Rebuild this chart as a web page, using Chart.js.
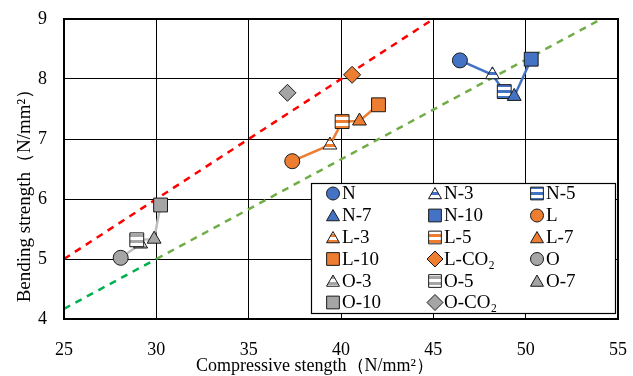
<!DOCTYPE html>
<html><head><meta charset="utf-8">
<script src="https://cdn.jsdelivr.net/npm/chart.js@4.4.1/dist/chart.umd.min.js"></script>
<style>html,body{margin:0;padding:0;background:#fff;}#wrap{width:633px;height:376px;position:relative}</style>
</head><body><div id="wrap"><canvas id="c" width="633" height="376"></canvas></div>
<script>
// ---- data ----
const seriesNames = ['N','N-3','N-5','N-7','N-10','L','L-3','L-5','L-7','L-10','L-CO₂','O','O-3','O-5','O-7','O-10','O-CO₂'];
const compressive = [46.44, 48.2, 48.84, 49.38, 50.3, 37.36, 39.4, 40.06, 41.0, 42.03, 40.6, 28.07, 29.15, 28.94, 29.88, 30.23, 37.1];
const bending     = [8.31, 8.07, 7.79, 7.71, 8.33, 6.63, 6.9, 7.29, 7.3, 7.57, 8.07, 5.02, 5.25, 5.32, 5.33, 5.9, 7.77];
const groups      = ['N','N','N','N','N','L','L','L','L','L','L','O','O','O','O','O','O'];
const shapes      = ['circle','triangle','rect','triangle','rect','circle','triangle','rect','triangle','rect','rectRot','circle','triangle','rect','triangle','rect','rectRot'];
const fills       = ['solid','stripe','stripe','solid','solid','solid','stripe','stripe','solid','solid','solid','solid','stripe','stripe','solid','solid','solid'];
const connected   = [true,true,true,true,true,true,true,true,true,true,false,true,true,true,true,true,false];
const xTicks = [25, 30, 35, 40, 45, 50, 55];
const yTicks = [4, 5, 6, 7, 8, 9];
const redLineX = [25, 45];
const redLineY = [5, 9];
const greenDarkX = [25, 30];
const greenDarkY = [4.17, 5.0];
const greenLightX = [30, 55];
const greenLightY = [5.0, 9.15];
const xTitle = 'Compressive stength（N/mm²）';
const yTitle = 'Bending strength（N/mm²）';

// ---- styles ----
const groupColor = {N:'#4472C4', L:'#ED7D31', O:'#A5A5A5'};
const lineColor = {N:'#4472C4', L:'#ED7D31', O:'#BFBFBF'};
const plotRadius = {circle:7.5, triangle:8, rect:9.8, rectRot:8.5};
const legendRadius = {circle:6.5, triangle:7.5, rect:9, rectRot:8};
const FONT = '"Liberation Serif", "Times New Roman", serif';

function stripe(color){
  const c = document.createElement('canvas'); c.width = 6; c.height = 6;
  const g = c.getContext('2d');
  g.fillStyle = '#ffffff'; g.fillRect(0,0,6,6);
  g.fillStyle = color; g.fillRect(0,0,6,3);
  return g.createPattern(c,'repeat');
}
function fillFor(i){
  const col = groupColor[groups[i]];
  return fills[i] === 'stripe' ? stripe(col) : col;
}

const datasets = [];
seriesNames.forEach((name,i)=>{
  datasets.push({
    label: name,
    data: [{x: compressive[i], y: bending[i]}],
    pointStyle: shapes[i],
    pointRadius: plotRadius[shapes[i]],
    pointHoverRadius: plotRadius[shapes[i]],
    pointBackgroundColor: fillFor(i),
    pointBorderColor: '#1a1a1a',
    pointBorderWidth: 1,
    showLine: false,
    order: 100 - i,
    _marker: true, _idx: i
  });
});
['N','L','O'].forEach(g=>{
  const pts = [];
  seriesNames.forEach((n,i)=>{ if(groups[i]===g && connected[i]) pts.push({x:compressive[i], y:bending[i]}); });
  datasets.push({label:g+' line', data:pts, showLine:true, borderColor:lineColor[g], borderWidth:2.5, pointRadius:0, order:200});
});
function seg(xs,ys){ return xs.map((x,k)=>({x:x,y:ys[k]})); }
datasets.push({label:'red', data:seg(redLineX,redLineY), showLine:true, borderColor:'#FF0000', borderWidth:2.5, borderDash:[7,6], pointRadius:0, order:300});
datasets.push({label:'greenDark', data:seg(greenDarkX,greenDarkY), showLine:true, borderColor:'#00B050', borderWidth:2.5, borderDash:[7,6], pointRadius:0, order:300});
datasets.push({label:'greenLight', data:seg(greenLightX,greenLightY), showLine:true, borderColor:'#70AD47', borderWidth:2.5, borderDash:[7,6], pointRadius:0, order:300});

const boxLegend = {
  id:'boxLegend',
  afterDatasetsDraw(chart){
    const ctx = chart.ctx;
    const L=311, T=183, R=615, B=313;
    ctx.save();
    ctx.fillStyle = '#fff'; ctx.fillRect(L,T,R-L,B-T);
    ctx.strokeStyle = '#000'; ctx.lineWidth = 1.2; ctx.strokeRect(L+0.5,T+0.5,R-L,B-T);
    const colX = [333, 435, 537];
    const rowY = [193.5, 215.5, 237.5, 259, 281, 302.5];
    ctx.font = '19px ' + FONT; ctx.textBaseline = 'middle'; ctx.textAlign = 'left';
    chart.data.datasets.forEach(ds=>{
      if(!ds._marker) return;
      const i = ds._idx, col = i%3, row = Math.floor(i/3);
      const x = colX[col], y = rowY[row];
      ctx.fillStyle = ds.pointBackgroundColor; ctx.strokeStyle = '#1a1a1a'; ctx.lineWidth = 1;
      const sh = ds.pointStyle;
      const yy = sh==='triangle' ? y+1.5 : y;
      Chart.helpers.drawPoint(ctx, {pointStyle:sh, rotation:0, radius:legendRadius[sh], borderWidth:1}, x, yy);
      ctx.fillStyle = '#000';
      ctx.fillText(ds.label, x + 9, y + 1);
    });
    ctx.restore();
  },
  afterDraw(chart){
    const ctx = chart.ctx, a = chart.chartArea;
    ctx.save();
    ctx.strokeStyle = '#000'; ctx.lineWidth = 2;
    ctx.strokeRect(a.left, a.top, a.right-a.left, a.bottom-a.top);
    ctx.fillStyle = '#000'; ctx.textAlign='center'; ctx.textBaseline='middle';
    ctx.font = '18px ' + FONT;
    ctx.fillText(xTitle, 315, 366);
    ctx.font = '19px ' + FONT;
    ctx.translate(25, 191); ctx.rotate(-Math.PI/2);
    ctx.fillText(yTitle, 0, 0);
    ctx.restore();
  }
};

function zeroPad(s){ s.paddingLeft = 0; s.paddingRight = 0; s.paddingTop = 0; s.paddingBottom = 0; }

new Chart(document.getElementById('c'), {
  type:'scatter',
  data:{datasets},
  options:{
    responsive:false, animation:false, devicePixelRatio:1,
    layout:{padding:{top:19, right:15, left:0, bottom:0}},
    plugins:{legend:{display:false}, tooltip:{enabled:false}},
    scales:{
      x:{type:'linear', min:xTicks[0], max:xTicks[xTicks.length-1],
        afterBuildTicks(s){ s.ticks = xTicks.map(v=>({value:v})); },
        afterFit(s){ s.height = 57; zeroPad(s); },
        ticks:{font:{family:FONT, size:18}, color:'#000', padding:20},
        grid:{color:'#000', lineWidth:1, drawTicks:false},
        border:{color:'#000', width:2}},
      y:{type:'linear', min:yTicks[0], max:yTicks[yTicks.length-1],
        afterBuildTicks(s){ s.ticks = yTicks.map(v=>({value:v})); },
        afterFit(s){ s.width = 64; zeroPad(s); },
        ticks:{font:{family:FONT, size:18}, color:'#000', padding:17},
        grid:{color:'#000', lineWidth:1, drawTicks:false},
        border:{color:'#000', width:2}}
    }
  },
  plugins:[boxLegend]
});
</script></body></html>
